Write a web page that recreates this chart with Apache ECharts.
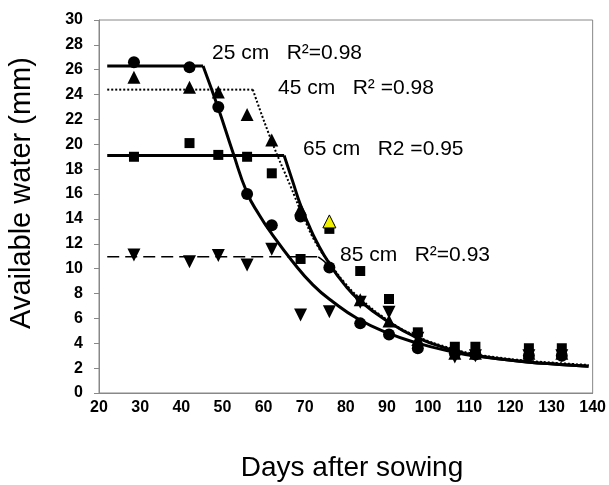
<!DOCTYPE html>
<html>
<head>
<meta charset="utf-8">
<script src="https://cdn.jsdelivr.net/npm/echarts@6/dist/echarts.min.js"></script>
<style>
html,body{margin:0;padding:0;background:#fff;}
#chart{width:609px;height:485px;}
</style>
</head>
<body>
<div id="chart"></div>
<script>
// Sampling days (x values)
const days = [28.5, 42, 49, 56, 62, 69, 76, 83.5, 90.5, 97.5, 106.5, 111.5, 124.5, 132.5];
// Observed available water (mm) per depth
const obs25 = [26.6, 26.2, 23.0, 16.0, 13.5, 14.2, 10.1, 5.6, 4.7, 3.6, 3.2, 3.1, 3.0, 3.0];
const obs45 = [25.4, 24.6, 24.2, 22.4, 20.35, 14.8, 13.8, 7.5, 5.8, 4.3, 3.2, 3.2, 3.2, 3.2];
const obs65 = [19.0, 20.1, 19.15, 19.0, 17.67, 10.78, 13.2, 9.81, 7.56, 4.88, 3.72, 3.72, 3.6, 3.6];
const obs85 = [11.1, 10.56, 11.05, 10.3, 11.56, 6.27, 6.54, 7.3, 6.5, 4.4, 2.9, 3.0, 3.0, 3.0];
// Fitted curves [day, mm]: plateau part and declining part
const plateau25 = [[22,26.3],[45.3,26.3]];
const decline25 = [[45.3,26.3],[49,22.9],[52.5,19.4],[56,16.1],[59,14.3],[62,12.8],[67,10.6],[72,8.7],[77,7.3],[83,5.95],[90,4.85],[97,4.05],[106,3.3],[112,2.95],[124,2.5],[132,2.3],[139,2.15]];
const plateau45 = [[22,24.4],[57.4,24.4]];
const decline45 = [[57.4,24.4],[61.8,20.4],[66.6,16.6],[69.5,14.3],[73,11.9],[76,10.5],[79.5,8.95],[83.5,7.6],[90,5.9],[97,4.6],[106,3.55],[112,3.1],[117,2.85],[124,2.6],[132,2.4],[139,2.25]];
const plateau65 = [[22,19.1],[65,19.1]];
const decline65 = [[65,19.1],[67,17.1],[69,15.1],[71,13.5],[73,12.1],[76,10.4],[79.5,8.8],[83.5,7.4],[90,5.8],[97,4.5],[106,3.45],[112,3.0],[124,2.5],[132,2.3],[139,2.15]];
const plateau85 = [[22,10.95],[73.3,10.95]];
const decline85 = [[73.3,10.95],[76,10.2],[79.5,8.8],[83.5,7.4],[90,5.8],[97,4.5],[106,3.45],[112,3.0],[124,2.5],[132,2.3],[139,2.15]];
// Labels
const labels = ['25 cm   R\u00b2=0.98', '45 cm   R\u00b2 =0.98', '65 cm   R2 =0.95', '85 cm   R\u00b2=0.93'];
const xTitle = 'Days after sowing';
const yTitle = 'Available water (mm)';
const yellowIndex = 6; // 45 cm point drawn in yellow

const pair = (xs, ys) => xs.map((x, i) => [x, ys[i]]);
const FONT = '"Liberation Sans", Arial, sans-serif';

const chart = echarts.init(document.getElementById('chart'), null, {renderer: 'canvas'});

const fitLine = (name, data, lineStyle, smooth) => ({
  type: 'line', name, data, showSymbol: false, symbol: 'none',
  smooth: smooth ? 0.5 : false, silent: true, z: 2, lineStyle
});
const mk = (name, symbol, size, data, extra) => Object.assign({
  type: 'scatter', name, symbol, symbolSize: size, data,
  itemStyle: {color: '#000', opacity: 1}, z: 3
}, extra || {});

const tri45 = pair(days, obs45).map((p, i) => i === yellowIndex
  ? {value: p, itemStyle: {color: '#f2f200', borderColor: '#000', borderWidth: 1, opacity: 1}, z: 5}
  : p);

const dash85 = {color: '#000', width: 1.5, type: [12, 6]};
const dot45 = {color: '#000', width: 2, type: [2, 2]};
const solid = {color: '#000', width: 3};

chart.setOption({
  animation: false,
  backgroundColor: '#fff',
  grid: {left: 99, right: 12, top: 20, bottom: 92, show: true, borderColor: '#888', borderWidth: 1, backgroundColor: 'transparent'},
  xAxis: {
    type: 'value', min: 20, max: 140, interval: 10,
    axisLine: {show: true, lineStyle: {color: '#888', width: 1}},
    axisTick: {show: false},
    splitLine: {show: false},
    axisLabel: {color: '#000', fontFamily: FONT, fontWeight: 'bold', fontSize: 16, margin: 7}
  },
  yAxis: {
    type: 'value', min: 0, max: 30, interval: 2,
    axisLine: {show: true, lineStyle: {color: '#888', width: 1}},
    axisTick: {show: true, inside: false, length: 5, lineStyle: {color: '#888'}},
    splitLine: {show: false},
    axisLabel: {color: '#000', fontFamily: FONT, fontWeight: 'bold', fontSize: 16, margin: 16}
  },
  graphic: [
    {type: 'text', x: 22, y: 193, rotation: Math.PI / 2,
     style: {text: yTitle, font: '29px ' + FONT, fill: '#000', align: 'center', verticalAlign: 'middle'}},
    {type: 'text', x: 352, y: 468,
     style: {text: xTitle, font: '28px ' + FONT, fill: '#000', align: 'center', verticalAlign: 'middle'}},
    {type: 'text', x: 212, y: 53, style: {text: labels[0], font: '21px ' + FONT, fill: '#000', verticalAlign: 'middle'}},
    {type: 'text', x: 278, y: 88, style: {text: labels[1], font: '21px ' + FONT, fill: '#000', verticalAlign: 'middle'}},
    {type: 'text', x: 303, y: 149, style: {text: labels[2], font: '21px ' + FONT, fill: '#000', verticalAlign: 'middle'}},
    {type: 'text', x: 340, y: 255, style: {text: labels[3], font: '21px ' + FONT, fill: '#000', verticalAlign: 'middle'}}
  ],
  series: [
    fitLine('85 cm fit', plateau85, dash85, false),
    fitLine('85 cm fit', decline85, dash85, true),
    fitLine('45 cm fit', plateau45, dot45, false),
    fitLine('45 cm fit', decline45, dot45, true),
    fitLine('65 cm fit', plateau65, solid, false),
    fitLine('65 cm fit', decline65, solid, true),
    fitLine('25 cm fit', plateau25, solid, false),
    fitLine('25 cm fit', decline25, solid, true),
    mk('25 cm', 'circle', 12, pair(days, obs25)),
    mk('85 cm', 'triangle', 13, pair(days, obs85), {symbolRotate: 180}),
    mk('65 cm', 'rect', 10, pair(days, obs65)),
    mk('45 cm', 'triangle', 13, tri45)
  ]
});
</script>
</body>
</html>
